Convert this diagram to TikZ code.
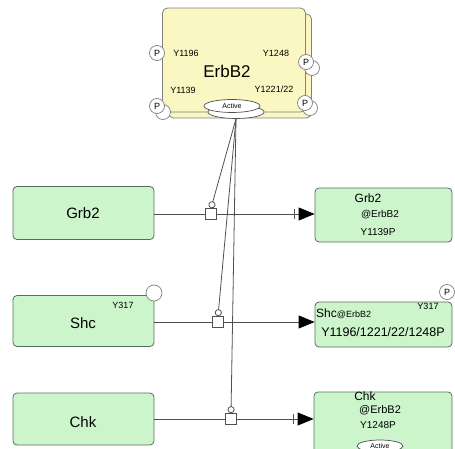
\documentclass[tikz,border=0pt]{standalone}
\usepackage{fontspec}
\setmainfont{Liberation Sans}
\usetikzlibrary{positioning, arrows.meta, shapes.geometric}

\newcommand{\fsz}[1]{\fontsize{#1}{#1}\selectfont}

\definecolor{boxgreen}{HTML}{CCF5CC}
\definecolor{edgegreen}{HTML}{55705A}
\definecolor{boxyellow}{HTML}{FAF7C2}
\definecolor{edgegray}{HTML}{808080}
\definecolor{linegray}{HTML}{505050}

\tikzset{
  species/.style={draw=edgegreen, fill=boxgreen, rounded corners=4pt, line width=0.8pt, inner sep=0pt},
  complexbox/.style={draw=edgegray, fill=boxyellow, rounded corners=5pt, line width=0.8pt, inner sep=0pt},
  pmark/.style={circle, draw=edgegray, fill=white, line width=0.7pt, inner sep=0pt, minimum size=15pt, font=\fsz{9}},
  stateoval/.style={ellipse, draw=linegray, fill=white, line width=0.7pt, inner sep=0pt, minimum width=56pt, minimum height=13pt, font=\fsz{7}},
  procbox/.style={draw=linegray, fill=white, line width=0.7pt, inner sep=0pt, minimum size=11pt},
  conn/.style={draw=linegray, line width=0.8pt},
  catal/.style={conn, -{Circle[open, length=7pt, width=7pt]}},
  stim/.style={conn, -{Triangle[length=16pt, width=13pt, color=black]}},
  barstim/.style={conn, -{Bar[width=10pt, sep=4pt]Triangle[length=16pt, width=13pt, color=black]}},
  tag/.style={inner sep=0pt, font=\fsz{9}}
}

\begin{document}
\begin{tikzpicture}[x=1pt, y=-1pt]
  \useasboundingbox (0,0) rectangle (455,449);

  % ErbB2 complex
  \node[complexbox, minimum width=143pt, minimum height=104pt] (erbbk) at (240,66) {};
  \node[complexbox, minimum width=143pt, minimum height=104pt] (erbb) at (234,60) {};
  \node[font=\fsz{17}, inner sep=0pt] (erbbl) at (227,71) {ErbB2};
  \node[tag] (t1196) at (186,53) {Y1196};
  \node[tag] (t1248) at (276,53) {Y1248};
  \node[tag] (t1139) at (183,90) {Y1139};
  \node[tag] (t1221) at (274,89) {Y1221/22};

  \node[pmark] (pa) at (157,53) {P};
  \node[pmark] (pbs) at (163,112) {};
  \node[pmark] (pb) at (157,106) {P};
  \node[pmark] (pcs) at (312,68) {};
  \node[pmark] (pc) at (306,62) {P};
  \node[pmark] (pds) at (310,108) {};
  \node[pmark] (pd) at (305,103) {P};

  \node[stateoval] (actb) at (236,112) {};
  \node[stateoval] (act) at (232,106) {Active};

  % Left species
  \node[species, minimum width=141pt, minimum height=53pt] (grb) at (83.5,213) {};
  \node[font=\fsz{15}, inner sep=0pt] (grbl) at (83,213) {Grb2};
  \node[species, minimum width=141pt, minimum height=51pt] (shc) at (83.5,321) {};
  \node[font=\fsz{15}, inner sep=0pt] (shcl) at (83,323) {Shc};
  \node[tag] (shc317) at (123,305) {Y317};
  \node[circle, draw=edgegray, fill=white, line width=0.7pt, minimum size=16pt, inner sep=0pt] (shcc) at (154,293) {};
  \node[species, minimum width=141pt, minimum height=52pt] (chk) at (83.5,419) {};
  \node[font=\fsz{15}, inner sep=0pt] (chkl) at (83,422) {Chk};

  % Right species
  \node[species, minimum width=137pt, minimum height=54pt] (grbc) at (383.5,215) {};
  \node[font=\fsz{12}, inner sep=0pt] (grbc1) at (368,198) {Grb2};
  \node[font=\fsz{10}, inner sep=0pt] (grbc2) at (380,215) {@ErbB2};
  \node[font=\fsz{10}, inner sep=0pt] (grbc3) at (378,232) {Y1139P};

  \node[species, minimum width=137pt, minimum height=45pt] (shcc2) at (383.5,324.5) {};
  \node[anchor=west, inner sep=0pt] (shcc1) at (316,314) {{\fsz{12}Shc}{\fsz{9}@ErbB2}};
  \node[tag] (shcc317) at (428,306) {Y317};
  \node[font=\fsz{12.5}, inner sep=0pt] (shcc3) at (383,332) {Y1196/1221/22/1248P};
  \node[pmark] (shccp) at (447,292) {P};

  \node[species, minimum width=138pt, minimum height=62pt] (chkc) at (383,423) {};
  \node[font=\fsz{12}, inner sep=0pt] (chkc1) at (365,396) {Chk};
  \node[font=\fsz{11}, inner sep=0pt] (chkc2) at (380,410) {@ErbB2};
  \node[font=\fsz{10}, inner sep=0pt] (chkc3) at (378,425) {Y1248P};
  \node[stateoval, minimum width=46pt, minimum height=12pt] (chkact) at (380,446) {Active};

  % Processes
  \node[procbox] (p1) at (211,214) {};
  \node[procbox] (p2) at (218,322) {};
  \node[procbox] (p3) at (231,419) {};

  % Edges
  \draw[conn] (grb.east |- p1) -- (p1);
  \draw[barstim] (p1) -- (p1 -| grbc.west);
  \draw[conn] (shc.east |- p2) -- (p2);
  \draw[stim] (p2) -- (p2 -| shcc2.west);
  \draw[conn] (chk.east |- p3) -- (p3);
  \draw[barstim] (p3) -- (p3 -| chkc.west);

  \draw[catal] (actb.south) -- (p1.north);
  \draw[catal] (actb.south) -- (p2.north);
  \draw[catal] (actb.south) -- (p3.north);
\end{tikzpicture}
\end{document}
